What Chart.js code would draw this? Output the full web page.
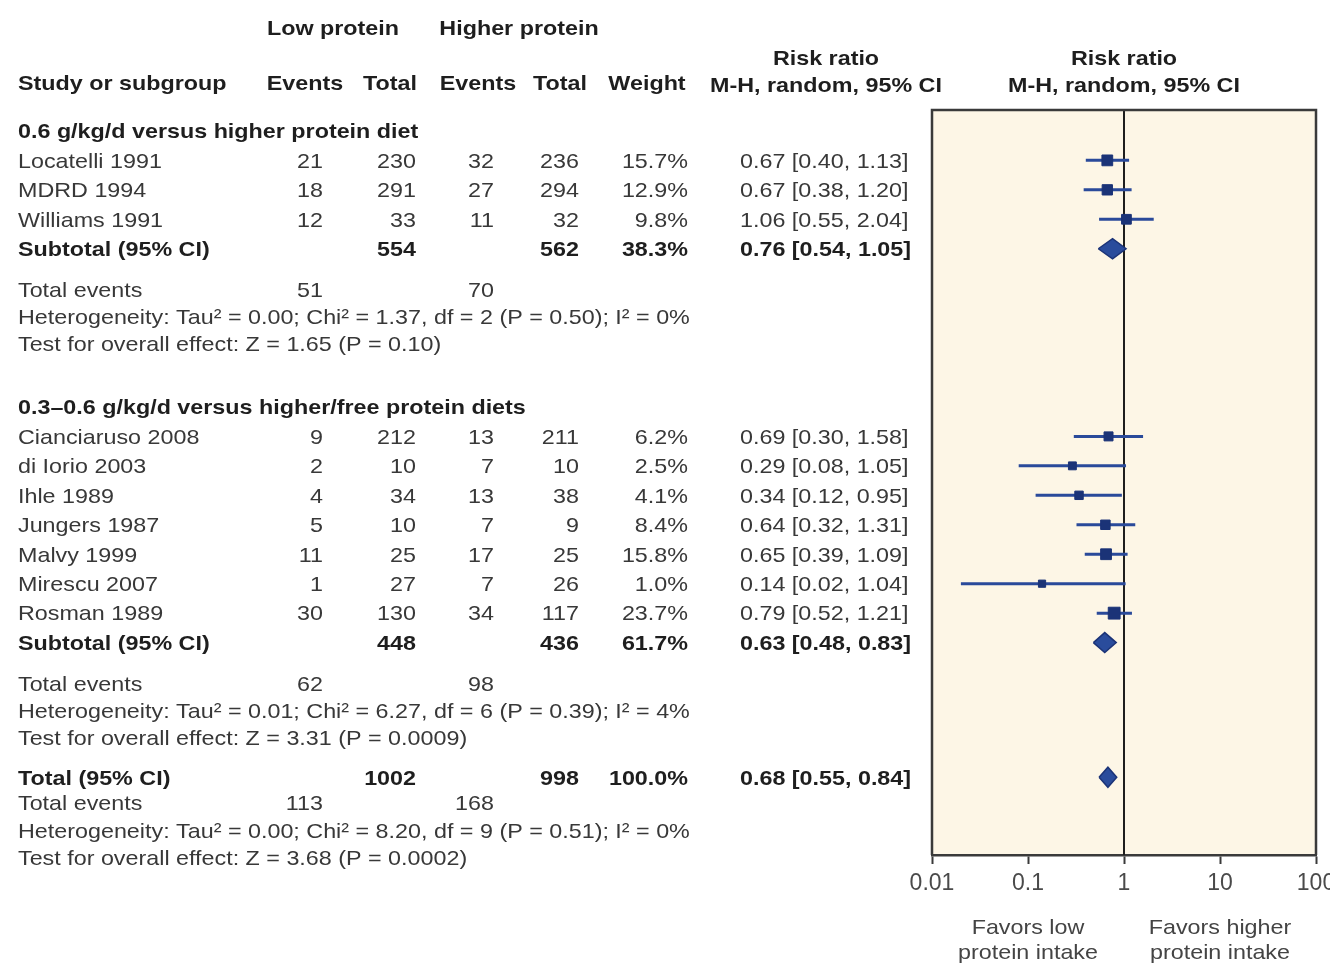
<!DOCTYPE html>
<html>
<head>
<meta charset="utf-8">
<title>Low protein diet and renal death – risk ratio forest plot</title>
<script src="https://cdn.jsdelivr.net/npm/chart.js@4.4.1/dist/chart.umd.min.js"></script>
<style>
  html, body { margin: 0; padding: 0; background: #ffffff; }
  #wrap { position: relative; width: 1330px; height: 964px; }
  canvas { display: block; }
</style>
</head>
<body>
<div id="wrap"><canvas id="forest" width="1330" height="964"></canvas></div>
<script>
// ---- Study-level data ----
const studyNames = ['Locatelli 1991', 'MDRD 1994', 'Williams 1991',
  'Cianciaruso 2008', 'di Iorio 2003', 'Ihle 1989', 'Jungers 1987', 'Malvy 1999', 'Mirescu 2007', 'Rosman 1989'];
const studyGroup = [0, 0, 0, 1, 1, 1, 1, 1, 1, 1];
const lowEvents  = [21, 18, 12, 9, 2, 4, 5, 11, 1, 30];
const lowTotal   = [230, 291, 33, 212, 10, 34, 10, 25, 27, 130];
const highEvents = [32, 27, 11, 13, 7, 13, 7, 17, 7, 34];
const highTotal  = [236, 294, 32, 211, 10, 38, 9, 25, 26, 117];
const weights    = [15.7, 12.9, 9.8, 6.2, 2.5, 4.1, 8.4, 15.8, 1.0, 23.7];
const riskRatio  = [0.67, 0.67, 1.06, 0.69, 0.29, 0.34, 0.64, 0.65, 0.14, 0.79];
const ciLower    = [0.40, 0.38, 0.55, 0.30, 0.08, 0.12, 0.32, 0.39, 0.02, 0.52];
const ciUpper    = [1.13, 1.20, 2.04, 1.58, 1.05, 0.95, 1.31, 1.09, 1.04, 1.21];

// ---- Subgroup summaries ----
const groupTitles     = ['0.6 g/kg/d versus higher protein diet', '0.3\u20130.6 g/kg/d versus higher/free protein diets'];
const groupLowTotal   = [554, 448];
const groupHighTotal  = [562, 436];
const groupWeight     = [38.3, 61.7];
const groupLowEvents  = [51, 62];
const groupHighEvents = [70, 98];
const groupRR         = [0.76, 0.63];
const groupLower      = [0.54, 0.48];
const groupUpper      = [1.05, 0.83];
const groupTau2       = ['0.00', '0.01'];
const groupChi2       = ['1.37', '6.27'];
const groupDf         = [2, 6];
const groupPHet       = ['0.50', '0.39'];
const groupI2         = [0, 4];
const groupZ          = ['1.65', '3.31'];
const groupPZ         = ['0.10', '0.0009'];

// ---- Overall summary ----
const overallLowTotal   = 1002;
const overallHighTotal  = 998;
const overallWeight     = 100.0;
const overallLowEvents  = 113;
const overallHighEvents = 168;
const overallRR         = 0.68;
const overallLower      = 0.55;
const overallUpper      = 0.84;
const overallTau2 = '0.00', overallChi2 = '8.20', overallDf = 9, overallPHet = '0.51', overallI2 = 0;
const overallZ = '3.68', overallPZ = '0.0002';

// ---- Axis ----
const tickValues = [0.01, 0.1, 1, 10, 100];
const tickLabels = ['0.01', '0.1', '1', '10', '100'];
const noEffect = 1;

// ---- Row layout (in row units, top to bottom) ----
const groupStartRow = [0, 9.37];
const studyRow = studyNames.map((_, i) => {
  const g = studyGroup[i];
  const k = studyGroup.slice(0, i).filter(v => v === g).length;
  return groupStartRow[g] + 1 + k;
});
const groupCount = groupTitles.map((_, g) => studyGroup.filter(v => v === g).length);
const subtotalRow = groupStartRow.map((r, g) => r + groupCount[g] + 1);
const eventsRow = subtotalRow.map(r => r + 1.40);
const hetRow = eventsRow.map(r => r + 0.92);
const testRow = hetRow.map(r => r + 0.92);
const overallRow = 21.94;
const overallEventsRow = overallRow + 0.88;
const overallHetRow = overallEventsRow + 0.92;
const overallTestRow = overallHetRow + 0.92;
const Y_MIN = -0.71, Y_MAX = 24.58;
const DIAMOND_HALF = 0.34;

const BLUE = '#2a4a9a';
const BLUE_DARK = '#1b3377';

const fmt2 = v => v.toFixed(2);
const ciText = (rr, lo, hi) => `${fmt2(rr)} [${fmt2(lo)}, ${fmt2(hi)}]`;
const hetText = (t, c, d, p, i2) => `Heterogeneity: Tau\u00B2 = ${t}; Chi\u00B2 = ${c}, df = ${d} (P = ${p}); I\u00B2 = ${i2}%`;
const testText = (z, p) => `Test for overall effect: Z = ${z} (P = ${p})`;

// CI whiskers: one line, broken between studies
const whiskerData = [];
studyNames.forEach((_, i) => {
  whiskerData.push({x: ciLower[i], y: studyRow[i]}, {x: ciUpper[i], y: studyRow[i]}, {x: null, y: null});
});
const pointData = studyNames.map((_, i) => ({x: riskRatio[i], y: studyRow[i]}));
// square side grows with study weight
const pointRadius = weights.map(w => (6 + 1.2 * Math.sqrt(w)) / Math.SQRT2);

function diamond(rr, lo, hi, row) {
  return [
    {x: lo, y: row}, {x: rr, y: row - DIAMOND_HALF}, {x: hi, y: row},
    {x: rr, y: row + DIAMOND_HALF}, {x: lo, y: row}
  ];
}
const diamondSets = groupRR.map((rr, g) => diamond(rr, groupLower[g], groupUpper[g], subtotalRow[g]));
diamondSets.push(diamond(overallRR, overallLower, overallUpper, overallRow));

// ---- Text helpers ----
const FONT = '"Liberation Sans", Arial, Helvetica, sans-serif';
const SX = 1.11;
const TEXT = '#383838';
const TEXT_BOLD = '#1e1e1e';
function txt(ctx, s, x, y, align, bold, color) {
  ctx.save();
  ctx.translate(x, y + 1.5);
  ctx.scale(SX, 1);
  ctx.font = (bold ? 'bold ' : '') + '21px ' + FONT;
  ctx.textAlign = align || 'left';
  ctx.textBaseline = 'middle';
  ctx.fillStyle = color || (bold ? TEXT_BOLD : TEXT);
  ctx.fillText(s, 0, 0);
  ctx.restore();
}

const COL = {name: 18, lowEv: 323, lowTot: 416, highEv: 494, highTot: 579, weight: 688, ci: 740};

const forestPlugin = {
  id: 'forestTable',
  beforeDraw(chart) {
    const {ctx, chartArea: a} = chart;
    ctx.save();
    ctx.fillStyle = '#fdf6e6';
    ctx.fillRect(a.left, a.top, a.right - a.left, a.bottom - a.top);
    ctx.restore();
  },
  beforeDatasetsDraw(chart) {
    const {ctx, chartArea: a, scales: {x}} = chart;
    const px = Math.round(x.getPixelForValue(noEffect));
    ctx.save();
    ctx.strokeStyle = '#1e1e1e';
    ctx.lineWidth = 2;
    ctx.beginPath();
    ctx.moveTo(px, a.top);
    ctx.lineTo(px, a.bottom);
    ctx.stroke();
    ctx.restore();
  },
  afterDraw(chart) {
    const {ctx, chartArea: a, scales: {x, y}} = chart;
    // frame (bottom edge is the x axis border)
    ctx.save();
    ctx.strokeStyle = '#3a3a3a';
    ctx.lineWidth = 2.5;
    ctx.beginPath();
    ctx.moveTo(a.left, a.bottom);
    ctx.lineTo(a.left, a.top);
    ctx.lineTo(a.right, a.top);
    ctx.lineTo(a.right, a.bottom);
    ctx.stroke();
    ctx.restore();

    // column headers
    txt(ctx, 'Low protein', 333, 28, 'center', true);
    txt(ctx, 'Higher protein', 519, 28, 'center', true);
    txt(ctx, 'Study or subgroup', COL.name, 83, 'left', true);
    txt(ctx, 'Events', 305, 83, 'center', true);
    txt(ctx, 'Total', 390, 83, 'center', true);
    txt(ctx, 'Events', 478, 83, 'center', true);
    txt(ctx, 'Total', 560, 83, 'center', true);
    txt(ctx, 'Weight', 647, 83, 'center', true);
    txt(ctx, 'Risk ratio', 826, 58, 'center', true);
    txt(ctx, 'M-H, random, 95% CI', 826, 85, 'center', true);
    const mid = (a.left + a.right) / 2;
    txt(ctx, 'Risk ratio', mid, 58, 'center', true);
    txt(ctx, 'M-H, random, 95% CI', mid, 85, 'center', true);

    const Y = r => y.getPixelForValue(r);

    // studies
    studyNames.forEach((name, i) => {
      const py = Y(studyRow[i]);
      txt(ctx, name, COL.name, py, 'left');
      txt(ctx, String(lowEvents[i]), COL.lowEv, py, 'right');
      txt(ctx, String(lowTotal[i]), COL.lowTot, py, 'right');
      txt(ctx, String(highEvents[i]), COL.highEv, py, 'right');
      txt(ctx, String(highTotal[i]), COL.highTot, py, 'right');
      txt(ctx, weights[i].toFixed(1) + '%', COL.weight, py, 'right');
      txt(ctx, ciText(riskRatio[i], ciLower[i], ciUpper[i]), COL.ci, py, 'left');
    });

    // subgroups
    groupTitles.forEach((title, g) => {
      txt(ctx, title, COL.name, Y(groupStartRow[g]), 'left', true);
      const sy = Y(subtotalRow[g]);
      txt(ctx, 'Subtotal (95% CI)', COL.name, sy, 'left', true);
      txt(ctx, String(groupLowTotal[g]), COL.lowTot, sy, 'right', true);
      txt(ctx, String(groupHighTotal[g]), COL.highTot, sy, 'right', true);
      txt(ctx, groupWeight[g].toFixed(1) + '%', COL.weight, sy, 'right', true);
      txt(ctx, ciText(groupRR[g], groupLower[g], groupUpper[g]), COL.ci, sy, 'left', true);
      const ey = Y(eventsRow[g]);
      txt(ctx, 'Total events', COL.name, ey, 'left');
      txt(ctx, String(groupLowEvents[g]), COL.lowEv, ey, 'right');
      txt(ctx, String(groupHighEvents[g]), COL.highEv, ey, 'right');
      txt(ctx, hetText(groupTau2[g], groupChi2[g], groupDf[g], groupPHet[g], groupI2[g]), COL.name, Y(hetRow[g]), 'left');
      txt(ctx, testText(groupZ[g], groupPZ[g]), COL.name, Y(testRow[g]), 'left');
    });

    // overall
    const oy = Y(overallRow);
    txt(ctx, 'Total (95% CI)', COL.name, oy, 'left', true);
    txt(ctx, String(overallLowTotal), COL.lowTot, oy, 'right', true);
    txt(ctx, String(overallHighTotal), COL.highTot, oy, 'right', true);
    txt(ctx, overallWeight.toFixed(1) + '%', COL.weight, oy, 'right', true);
    txt(ctx, ciText(overallRR, overallLower, overallUpper), COL.ci, oy, 'left', true);
    const oey = Y(overallEventsRow);
    txt(ctx, 'Total events', COL.name, oey, 'left');
    txt(ctx, String(overallLowEvents), COL.lowEv, oey, 'right');
    txt(ctx, String(overallHighEvents), COL.highEv, oey, 'right');
    txt(ctx, hetText(overallTau2, overallChi2, overallDf, overallPHet, overallI2), COL.name, Y(overallHetRow), 'left');
    txt(ctx, testText(overallZ, overallPZ), COL.name, Y(overallTestRow), 'left');

    // direction labels under the axis
    const lx = x.getPixelForValue(0.1), rx = x.getPixelForValue(10);
    txt(ctx, 'Favors low', lx, 927, 'center', false, '#444');
    txt(ctx, 'protein intake', lx, 952, 'center', false, '#444');
    txt(ctx, 'Favors higher', rx, 927, 'center', false, '#444');
    txt(ctx, 'protein intake', rx, 952, 'center', false, '#444');
  }
};

const datasets = [
  {
    type: 'line',
    data: whiskerData,
    borderColor: BLUE,
    borderWidth: 3,
    pointRadius: 0,
    spanGaps: false,
    fill: false,
    order: 3
  },
  {
    type: 'scatter',
    data: pointData,
    pointStyle: 'rect',
    pointRadius: pointRadius,
    backgroundColor: BLUE_DARK,
    borderColor: BLUE_DARK,
    borderWidth: 1,
    order: 2
  }
].concat(diamondSets.map(d => ({
  type: 'line',
  data: d,
  borderColor: BLUE_DARK,
  borderWidth: 1.5,
  backgroundColor: '#2a4c9c',
  pointRadius: 0,
  fill: 'shape',
  tension: 0,
  order: 1
})));

new Chart(document.getElementById('forest'), {
  type: 'scatter',
  data: {datasets},
  options: {
    responsive: false,
    devicePixelRatio: 1,
    animation: false,
    events: [],
    layout: {padding: {left: 932, right: 14, top: 110, bottom: 69}},
    plugins: {legend: {display: false}, tooltip: {enabled: false}},
    scales: {
      x: {
        type: 'logarithmic',
        min: 0.01,
        max: 100,
        position: 'bottom',
        afterBuildTicks(scale) { scale.ticks = tickValues.map(v => ({value: v})); },
        afterFit(scale) { scale.paddingLeft = 0; scale.paddingRight = 0; scale.height = 40; },
        grid: {display: true, drawOnChartArea: false, drawTicks: true, tickLength: 9, tickColor: '#3a3a3a', tickWidth: 2},
        border: {display: true, color: '#3a3a3a', width: 2.5},
        ticks: {
          autoSkip: false,
          maxRotation: 0,
          padding: 6,
          color: '#4a4a4a',
          font: {family: FONT, size: 23},
          callback: (v) => { const i = tickValues.indexOf(v); return i >= 0 ? tickLabels[i] : ''; }
        }
      },
      y: {
        type: 'linear',
        display: false,
        reverse: true,
        min: Y_MIN,
        max: Y_MAX
      }
    }
  },
  plugins: [forestPlugin]
});
</script>
</body>
</html>
